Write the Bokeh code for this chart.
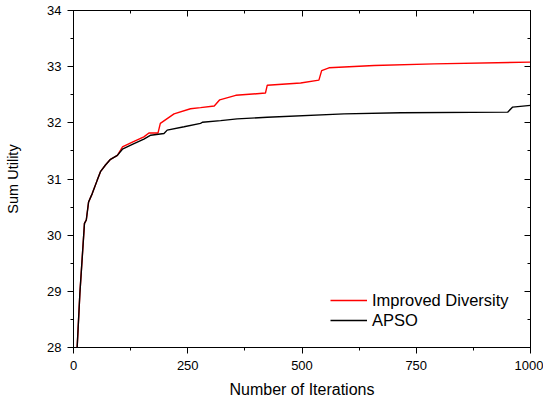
from bokeh.plotting import figure
from bokeh.models import Range1d, LinearAxis, SingleIntervalTicker, Legend, LegendItem
from bokeh.embed import file_html
from bokeh.resources import INLINE

# Data
apso_x = [0, 8, 14, 24, 28, 33, 41, 52, 59, 70, 81, 96, 107, 130, 154, 169, 198, 205,
          242, 278, 282, 322, 358, 424, 592, 716, 950, 961, 1000]
apso_y = [27.6, 28.0, 28.97, 30.21, 30.27, 30.59, 30.74, 30.98, 31.13, 31.25, 31.35, 31.42,
          31.53, 31.62, 31.71, 31.78, 31.81, 31.87, 31.93, 31.99, 32.01, 32.04, 32.07,
          32.10, 32.16, 32.18, 32.19, 32.28, 32.31]

imp_x = [0, 8, 14, 24, 28, 33, 41, 52, 59, 70, 81, 96, 107, 130, 154, 165, 185, 190,
         220, 256, 278, 308, 320, 355, 420, 424, 497, 537, 543, 559, 658, 789, 1000]
imp_y = [27.6, 28.0, 28.97, 30.21, 30.27, 30.59, 30.74, 30.98, 31.13, 31.25, 31.35, 31.42,
         31.57, 31.66, 31.75, 31.82, 31.82, 31.99, 32.16, 32.25, 32.27, 32.30, 32.41,
         32.49, 32.53, 32.67, 32.71, 32.76, 32.93, 32.98, 33.02, 33.05, 33.08]

x_label = "Number of Iterations"
y_label = "Sum Utility"
series_names = ["Improved Diversity", "APSO"]

FONT = "Liberation Sans"

p = figure(width=543, height=400, output_backend="svg", toolbar_location=None,
           x_range=Range1d(0, 1000), y_range=Range1d(28, 34),
           min_border_left=73, min_border_right=13, min_border_top=10, min_border_bottom=40)
p.xgrid.visible = False
p.ygrid.visible = False
p.outline_line_color = "black"
p.outline_line_width = 1
p.background_fill_color = "white"
p.border_fill_color = "white"

r_imp = p.line(imp_x, imp_y, line_color="#ff0000", line_width=1.4)
r_apso = p.line(apso_x, apso_y, line_color="black", line_width=1.4)

def style_axis(ax, ticker, outward, show_labels):
    ax.ticker = ticker
    ax.axis_line_color = "black"
    ax.major_tick_line_color = "black"
    ax.minor_tick_line_color = "black"
    if outward:
        ax.major_tick_out = 6
        ax.major_tick_in = 0
        ax.minor_tick_out = 3
        ax.minor_tick_in = 0
    else:
        ax.major_tick_out = 0
        ax.major_tick_in = 6
        ax.minor_tick_out = 0
        ax.minor_tick_in = 3
    if show_labels:
        ax.major_label_text_font = FONT
        ax.major_label_text_font_size = "13px"
        ax.major_label_text_color = "black"
        ax.major_label_standoff = 6
    else:
        ax.major_label_text_font_size = "0px"
        ax.major_label_text_color = None
        ax.major_label_standoff = 0

xt = SingleIntervalTicker(interval=250, num_minor_ticks=2)
yt = SingleIntervalTicker(interval=1, num_minor_ticks=2)

style_axis(p.xaxis[0], xt, True, True)
style_axis(p.yaxis[0], yt, True, True)
p.xaxis[0].major_label_standoff = 7
p.xaxis[0].axis_label = x_label
p.yaxis[0].axis_label = y_label
for ax in (p.xaxis[0], p.yaxis[0]):
    ax.axis_label_text_font = FONT
    ax.axis_label_text_font_style = "normal"
    ax.axis_label_text_color = "black"
p.xaxis[0].axis_label_text_font_size = "16px"
p.yaxis[0].axis_label_text_font_size = "14.5px"
p.xaxis[0].axis_label_standoff = 8
p.yaxis[0].axis_label_standoff = 23

top = LinearAxis()
style_axis(top, SingleIntervalTicker(interval=250, num_minor_ticks=2), False, False)
p.add_layout(top, "above")
right = LinearAxis()
style_axis(right, SingleIntervalTicker(interval=1, num_minor_ticks=2), False, False)
p.add_layout(right, "right")

legend = Legend(items=[LegendItem(label=series_names[0], renderers=[r_imp]),
                       LegendItem(label=series_names[1], renderers=[r_apso])],
                location=(257, 17))
legend.padding = 0
legend.margin = 0
legend.spacing = 0
legend.border_line_color = None
legend.background_fill_alpha = 0
legend.glyph_width = 37
legend.glyph_height = 20
legend.label_height = 20
legend.label_standoff = 5
legend.label_text_font = FONT
legend.label_text_font_size = "16.5px"
legend.label_text_color = "black"
p.add_layout(legend, "center")

open("out.html", "w").write(file_html(p, INLINE))
